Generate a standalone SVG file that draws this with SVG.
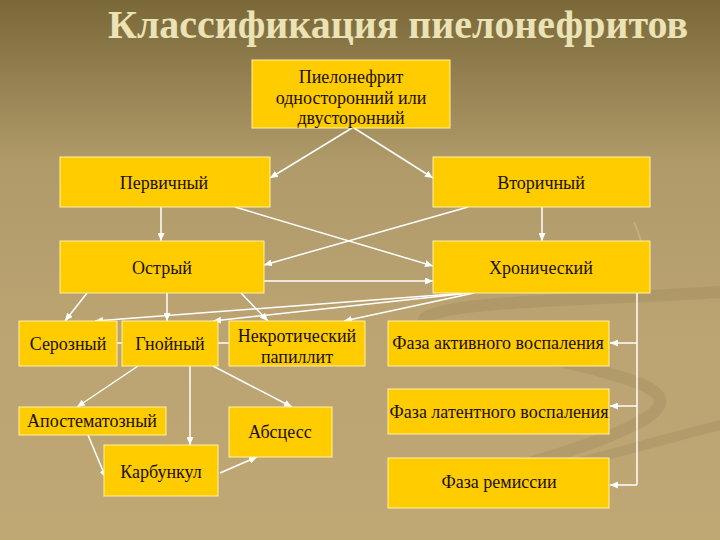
<svg xmlns="http://www.w3.org/2000/svg" width="720" height="540" viewBox="0 0 720 540">
<defs>
  <linearGradient id="bg" x1="0" y1="0" x2="0" y2="1">
    <stop offset="0" stop-color="#7a6839"/>
    <stop offset="0.3" stop-color="#b09a69"/>
    <stop offset="0.6" stop-color="#bba372"/>
    <stop offset="1" stop-color="#c0a875"/>
  </linearGradient>
  <marker id="ah" markerWidth="8" markerHeight="7" refX="8" refY="3.5" orient="auto" markerUnits="userSpaceOnUse">
    <path d="M0,0 L8,3.5 L0,7 z" fill="#ffffff"/>
  </marker>
  <style>
    .box{fill:#ffcc00;stroke:#fff1a0;stroke-width:1}
    .t{font-size:18px;fill:#1a1000;text-anchor:middle}
    .c line,.c polyline{stroke:#ffffff;stroke-width:1.5;fill:none}
    .a{marker-end:url(#ah)}
    .sw{fill:none;stroke:#8f7a4c;stroke-opacity:0.22;stroke-linecap:round}
  </style>
</defs>
<rect width="720" height="540" fill="url(#bg)"/>
<g id="swoosh">
  <path class="sw" d="M720,292 C600,300 450,300 425,318 C410,335 560,355 630,380 C690,400 650,420 600,440 C540,462 470,480 400,498" stroke-width="12"/>
  <path class="sw" d="M720,425 C640,445 560,470 460,490" stroke-width="10"/>
  <path d="M634,222 C642,240 645,255 644,265" fill="none" stroke="#d8c79a" stroke-opacity="0.4" stroke-width="2"/>
</g>
<text x="398" y="38" font-family="Liberation Serif, Times New Roman, serif" font-size="40" font-weight="bold" fill="#ebe2b5" text-anchor="middle" textLength="580" lengthAdjust="spacingAndGlyphs">Классификация пиелонефритов</text>
<g class="c" id="connectors">
  <line class="a" x1="352" y1="128" x2="270" y2="178"/>
  <line class="a" x1="354" y1="128" x2="433" y2="178"/>
  <line class="a" x1="161" y1="207" x2="161" y2="241"/>
  <line class="a" x1="542" y1="207" x2="542" y2="241"/>
  <line class="a" x1="235" y1="207" x2="433" y2="266"/>
  <line class="a" x1="468" y1="207" x2="264" y2="265"/>
  <line class="a" x1="264" y1="281" x2="433" y2="281"/>
  <line class="a" x1="87" y1="293" x2="65" y2="321"/>
  <line class="a" x1="167" y1="293" x2="167" y2="321"/>
  <line class="a" x1="241" y1="293" x2="268" y2="321"/>
  <line class="a" x1="466" y1="293" x2="95" y2="321"/>
  <line class="a" x1="470" y1="293" x2="213" y2="321"/>
  <line class="a" x1="474" y1="293" x2="344" y2="321"/>
  <polyline points="637,292 637,485"/>
  <line class="a" x1="637" y1="343" x2="610" y2="343"/>
  <line class="a" x1="637" y1="406" x2="610" y2="406"/>
  <line class="a" x1="637" y1="485" x2="610" y2="485"/>
  <line class="a" x1="138" y1="366" x2="77" y2="407"/>
  <line class="a" x1="190" y1="366" x2="190" y2="445"/>
  <line class="a" x1="213" y1="366" x2="292" y2="407"/>
  <line class="a" x1="88" y1="435" x2="106" y2="478"/>
  <line class="a" x1="220" y1="473" x2="257" y2="457"/>
  <line x1="117" y1="343" x2="122" y2="343"/>
  <line x1="218" y1="343" x2="229" y2="343"/>
</g>
<g id="nodes" font-family="Liberation Serif, Times New Roman, serif">
<g id="n-root"><rect class="box" x="252" y="60" width="198" height="68"/>
  <text class="t" x="351" y="83">Пиелонефрит</text>
  <text class="t" x="351" y="104">односторонний или</text>
  <text class="t" x="351" y="124">двусторонний</text></g>
<g id="n-primary"><rect class="box" x="60" y="157" width="210" height="50"/><text class="t" x="164" y="189">Первичный</text></g>
<g id="n-secondary"><rect class="box" x="433" y="157" width="217" height="50"/><text class="t" x="541" y="189">Вторичный</text></g>
<g id="n-acute"><rect class="box" x="60" y="241" width="204" height="52"/><text class="t" x="162" y="274">Острый</text></g>
<g id="n-chronic"><rect class="box" x="433" y="241" width="217" height="52"/><text class="t" x="541" y="274">Хронический</text></g>
<g id="n-serous"><rect class="box" x="19" y="321" width="98" height="45"/><text class="t" x="68" y="350">Серозный</text></g>
<g id="n-purulent"><rect class="box" x="122" y="321" width="96" height="45"/><text class="t" x="170" y="350">Гнойный</text></g>
<g id="n-necrotic"><rect class="box" x="229" y="321" width="136" height="45"/>
  <text class="t" x="297" y="342">Некротический</text><text class="t" x="297" y="363">папиллит</text></g>
<g id="n-active"><rect class="box" x="388" y="321" width="221" height="45"/><text class="t" x="498" y="349">Фаза активного воспаления</text></g>
<g id="n-latent"><rect class="box" x="388" y="389" width="221" height="45"/><text class="t" x="499" y="418">Фаза латентного воспаления</text></g>
<g id="n-remission"><rect class="box" x="388" y="458" width="221" height="50"/><text class="t" x="499" y="488">Фаза ремиссии</text></g>
<g id="n-apost"><rect class="box" x="19" y="407" width="147" height="28"/><text class="t" x="92" y="427">Апостематозный</text></g>
<g id="n-carb"><rect class="box" x="104" y="445" width="114" height="51"/><text class="t" x="161" y="478">Карбункул</text></g>
<g id="n-absc"><rect class="box" x="229" y="407" width="103" height="50"/><text class="t" x="280" y="438">Абсцесс</text></g>
</g>
</svg>
